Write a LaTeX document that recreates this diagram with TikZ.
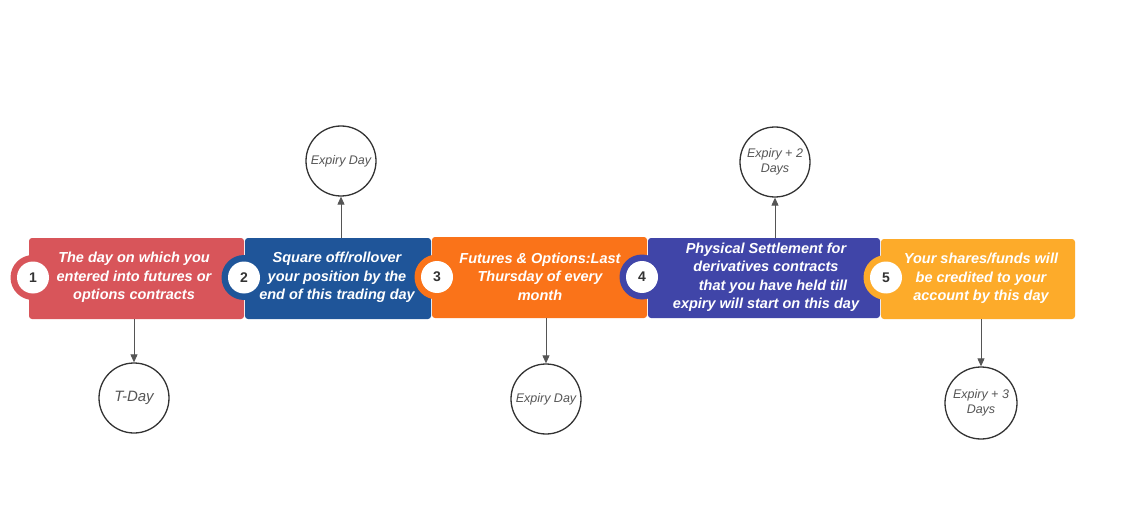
\documentclass[tikz,border=0pt]{standalone}
\usepackage{fontspec}
\setmainfont{Liberation Sans}
\usetikzlibrary{arrows.meta}
\definecolor{cRed}{HTML}{D8555A}
\definecolor{cBlue}{HTML}{1F5599}
\definecolor{cOrange}{HTML}{FA7319}
\definecolor{cIndigo}{HTML}{4045A8}
\definecolor{cAmber}{HTML}{FDAB2A}
\definecolor{cText}{HTML}{555555}
\definecolor{cLine}{HTML}{333333}
\tikzset{
  stepbox/.style={rounded corners=3pt, draw=none},
  boxtext/.style={text=white, font=\fontsize{14.5}{18.5}\selectfont\bfseries\itshape, align=center},
  bump/.style={circle, minimum size=45pt, inner sep=0pt},
  numdot/.style={circle, fill=white, minimum size=32pt, inner sep=0pt, text=cLine, font=\fontsize{14}{14}\selectfont\bfseries},
  daycirc/.style={circle, draw=cLine, line width=1.3pt, fill=white, minimum size=70pt, inner sep=0pt, text=cText, align=center, font=\fontsize{12.5}{15}\selectfont\itshape},
  conn/.style={draw=cText, line width=0.9pt, -{Triangle[length=8pt,width=7pt]}}
}
\begin{document}
\begin{tikzpicture}[x=1pt,y=-1pt]
\useasboundingbox[fill=white] (0,0) rectangle (1128,524);
% box 1
\fill[stepbox, fill=cRed] (29,238) rectangle (244,319);
\node[bump, fill=cRed] (b1) at (33,277.5) {};
\node[numdot] (n1) at (33,277.5) {1};
\node[boxtext] (t1) at (134,277.5) {The day on which you\\entered into futures or\\options contracts};
% box 2
\fill[stepbox, fill=cBlue] (245,238) rectangle (431,319);
\node[bump, fill=cBlue] (b2) at (244,277.5) {};
\node[numdot] (n2) at (244,277.5) {2};
\node[boxtext] (t2) at (337,277.5) {Square off/rollover\\your position by the\\end of this trading day};
% box 3
\fill[stepbox, fill=cOrange] (432,237) rectangle (647,318);
\node[bump, fill=cOrange] (b3) at (437,277) {};
\node[numdot] (n3) at (437,277) {3};
\node[boxtext] (t3) at (540,276.5) {Futures \& Options:Last\\Thursday of every\\month};
% box 4
\fill[stepbox, fill=cIndigo] (648,238) rectangle (880,318);
\node[bump, fill=cIndigo] (b4) at (642,277) {};
\node[numdot] (n4) at (642,277) {4};
\node[boxtext] (t4) at (766,277.5) {Physical Settlement for\\derivatives contracts\\\hspace*{14pt}that you have held till\\expiry will start on this day};
% box 5
\fill[stepbox, fill=cAmber] (881,239) rectangle (1075,319);
\node[bump, fill=cAmber] (b5) at (886,277.5) {};
\node[numdot] (n5) at (886,277.5) {5};
\node[boxtext] (t5) at (981,278.5) {Your shares/funds will\\be credited to your\\account by this day};
% day circles
\node[daycirc] (d1) at (134,398) {\fontsize{15}{15}\selectfont T-Day};
\node[daycirc] (d2) at (341,161) {Expiry Day};
\node[daycirc] (d3) at (546,399) {Expiry Day};
\node[daycirc] (d4) at (775,162) {Expiry + 2\\Days};
\node[daycirc, minimum size=72pt] (d5) at (981,403) {Expiry + 3\\Days};
% connectors
\coordinate (a1) at (134,319);
\coordinate (a2) at (341,238);
\coordinate (a3) at (546,318);
\coordinate (a4) at (775,238);
\coordinate (a5) at (981,319);
\draw[conn] (a1) -- (d1);
\draw[conn] (a2) -- (d2);
\draw[conn] (a3) -- (d3);
\draw[conn] (a4) -- (d4);
\draw[conn] (a5) -- (d5);
\end{tikzpicture}
\end{document}
